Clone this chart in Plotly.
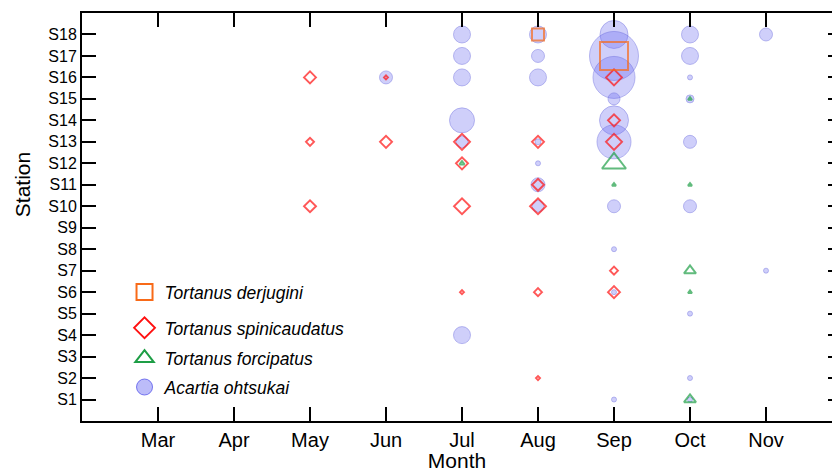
import plotly.graph_objects as go

# ---------------- data ----------------
MONTHS = ["Mar", "Apr", "May", "Jun", "Jul", "Aug", "Sep", "Oct", "Nov"]
STATIONS = [f"S{i}" for i in range(1, 19)]

# Acartia ohtsukai (abundance index ~ symbol diameter)
ao_month = ["Jun",
            "Jul", "Jul", "Jul", "Jul", "Jul", "Jul",
            "Aug", "Aug", "Aug", "Aug", "Aug", "Aug", "Aug",
            "Sep", "Sep", "Sep", "Sep", "Sep", "Sep", "Sep", "Sep", "Sep", "Sep",
            "Oct", "Oct", "Oct", "Oct", "Oct", "Oct", "Oct", "Oct", "Oct",
            "Nov", "Nov"]
ao_station = [16,
              18, 17, 16, 14, 13, 4,
              18, 17, 16, 13, 12, 11, 10,
              18, 17, 16, 15, 14, 13, 10, 8, 6, 1,
              18, 17, 16, 15, 13, 10, 5, 2, 1,
              18, 7]
ao_abund = [13,
            17, 17, 17, 25, 12, 17,
            17, 13, 17, 6, 5, 14, 12,
            28, 49, 42, 12, 29, 34, 13, 5, 5, 5,
            17, 17, 5, 8, 13, 13, 5, 5, 5,
            13, 5]

# Tortanus spinicaudatus
ts_month = ["May", "May", "May", "Jun", "Jun",
            "Jul", "Jul", "Jul", "Jul",
            "Aug", "Aug", "Aug", "Aug", "Aug",
            "Sep", "Sep", "Sep", "Sep", "Sep"]
ts_station = [16, 13, 10, 16, 13,
              13, 12, 10, 6,
              13, 11, 10, 6, 2,
              16, 14, 13, 7, 6]
ts_abund = [12, 8, 12, 4, 12,
            16, 12, 16, 4,
            12, 12, 16, 8, 4,
            16, 12, 16, 8, 12]

# Tortanus forcipatus
tf_month = ["Jul", "Sep", "Sep", "Oct", "Oct", "Oct", "Oct", "Oct"]
tf_station = [12, 12, 11, 15, 11, 7, 6, 1]
tf_abund = [5, 24, 4, 4, 4, 12, 4, 12]

# Tortanus derjugini
td_month = ["Aug", "Sep"]
td_station = [18, 17]
td_abund = [12, 28]

# ---------------- figure ----------------
mnum = {m: i + 3 for i, m in enumerate(MONTHS)}
FONT = "Arial, 'Liberation Sans', sans-serif"

C_BLUE_FILL = "rgba(95,95,240,0.42)"
C_BLUE_LINE = "rgba(95,95,220,0.6)"
C_RED = "#FF1010"
C_GREEN = "#1E9E46"
C_ORANGE = "#F86A18"

fig = go.Figure()

fig.add_trace(go.Scatter(
    x=[mnum[m] for m in ao_month], y=ao_station, mode="markers",
    marker=dict(symbol="circle", size=ao_abund, color=C_BLUE_FILL,
                line=dict(color=C_BLUE_LINE, width=1)),
    showlegend=False, hoverinfo="skip"))

fig.add_trace(go.Scatter(
    x=[mnum[m] for m in ts_month], y=ts_station, mode="markers",
    marker=dict(symbol="diamond-open", size=[v / 1.3 for v in ts_abund], color=C_RED,
                line=dict(color=C_RED, width=1.9)),
    showlegend=False, hoverinfo="skip"))

fig.add_trace(go.Scatter(
    x=[mnum[m] for m in tf_month], y=tf_station, mode="markers",
    marker=dict(symbol="triangle-up-open", size=[v / 1.155 for v in tf_abund], color=C_GREEN,
                line=dict(color=C_GREEN, width=2)),
    showlegend=False, hoverinfo="skip"))

fig.add_trace(go.Scatter(
    x=[mnum[m] for m in td_month], y=td_station, mode="markers",
    marker=dict(symbol="square-open", size=td_abund, color=C_ORANGE,
                line=dict(color=C_ORANGE, width=2)),
    showlegend=False, hoverinfo="skip"))

# legend entries, one small legend per row
legend_specs = [
    ("<i>Tortanus derjugini</i>", "square-open", C_ORANGE, C_ORANGE, 2, 0.316),
    ("<i>Tortanus spinicaudatus</i>", "diamond-open", C_RED, C_RED, 1.9, 0.228),
    ("<i>Tortanus forcipatus</i>", "triangle-up-open", C_GREEN, C_GREEN, 2, 0.154),
    ("<i>Acartia ohtsukai</i>", "circle", C_BLUE_FILL, "rgba(90,90,235,0.8)", 1, 0.083),
]
legend_layouts = {}
for i, (name, sym, col, lcol, lw, ly) in enumerate(legend_specs):
    lname = "legend" if i == 0 else f"legend{i + 1}"
    fig.add_trace(go.Scatter(
        x=[None], y=[None], mode="markers", name=name, legend=lname,
        marker=dict(symbol=sym, size=16, color=col, line=dict(color=lcol, width=lw))))
    legend_layouts[lname] = dict(x=0.0567, y=ly, xanchor="left", yanchor="middle",
                                 font=dict(size=17.5, family=FONT),
                                 bgcolor="rgba(0,0,0,0)")

# right-side ticks without an axis line
fig.add_trace(go.Scatter(x=[None], y=[None], yaxis="y2", showlegend=False, hoverinfo="skip"))

fig.update_layout(
    width=832, height=472,
    margin=dict(l=82, r=0, t=13, b=51),
    paper_bgcolor="white", plot_bgcolor="white",
    font=dict(family=FONT, color="black"),
    showlegend=True,
    xaxis=dict(range=[2, 2 + 750 / 76], tickvals=list(range(3, 12)), ticktext=MONTHS,
               ticks="inside", ticklen=14, tickwidth=2, tickcolor="black",
               showline=True, linewidth=2, linecolor="black", mirror="ticks",
               showgrid=False, zeroline=False, tickfont=dict(size=20),
               title=dict(text="Month", font=dict(size=21), standoff=0)),
    yaxis=dict(range=[0, 19], tickvals=list(range(1, 19)), ticktext=STATIONS,
               ticks="inside", ticklen=14, tickwidth=2, tickcolor="black",
               showline=True, linewidth=2, linecolor="black", mirror=False,
               showgrid=False, zeroline=False, tickfont=dict(size=16)),
    yaxis2=dict(overlaying="y", side="right", range=[0, 19], tickvals=list(range(1, 19)),
                showticklabels=False, ticks="inside", ticklen=4, tickwidth=2,
                tickcolor="black", showline=False, showgrid=False, zeroline=False),
    annotations=[dict(text="Station", textangle=-90, x=-0.08, y=0.578,
                      xref="paper", yref="paper", xanchor="center", yanchor="middle",
                      showarrow=False, font=dict(size=21))],
    **legend_layouts,
)

fig.write_html("out.html",
               config={"displayModeBar": False},
               post_script="document.body.style.margin='0';document.body.style.overflow='hidden';")
